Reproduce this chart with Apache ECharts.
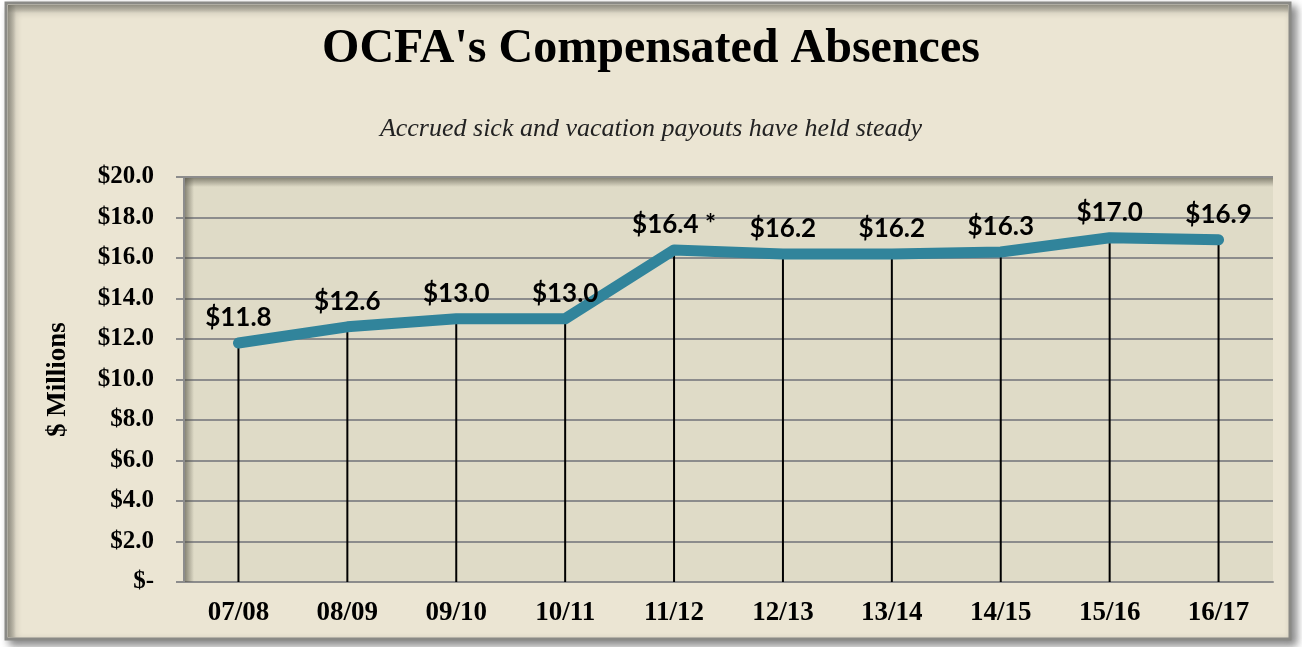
<!DOCTYPE html>
<html>
<head>
<meta charset="utf-8">
<script src="https://cdn.jsdelivr.net/npm/echarts@6/dist/echarts.min.js"></script>
<style>
  html, body { margin: 0; padding: 0; background: #ffffff; }
  #chart { width: 1302px; height: 647px; }
</style>
</head>
<body>
<div id="chart"></div>
<script>
// fiscal years and compensated absences ($ millions)
var years = ['07/08', '08/09', '09/10', '10/11', '11/12', '12/13', '13/14', '14/15', '15/16', '16/17'];
var absences = [11.8, 12.6, 13.0, 13.0, 16.4, 16.2, 16.2, 16.3, 17.0, 16.9];
var labelNotes = ['', '', '', '', ' *', '', '', '', '', ''];
var yTicks = [0, 2, 4, 6, 8, 10, 12, 14, 16, 18, 20];

var chartDom = document.getElementById('chart');
var myChart = echarts.init(chartDom);

var serif = '"Liberation Serif", "DejaVu Serif", serif';
var sans = 'Lato, "Open Sans", sans-serif';

var option = {
  backgroundColor: '#ffffff',
  animation: false,
  graphic: [
    // outer frame with shadow
    {
      type: 'rect', z: -10,
      shape: { x: 6, y: 3, width: 1284, height: 636 },
      style: {
        fill: '#ebe5d3', stroke: '#8a8a86', lineWidth: 3,
        shadowBlur: 8, shadowOffsetX: 5, shadowOffsetY: 5, shadowColor: 'rgba(0,0,0,0.45)'
      }
    },
    // inner shadow of frame (top / left)
    {
      type: 'rect', z: -9,
      shape: { x: 8, y: 5, width: 1280, height: 8 },
      style: { fill: new echarts.graphic.LinearGradient(0, 0, 0, 1, [
        { offset: 0, color: 'rgba(90,90,80,0.55)' }, { offset: 1, color: 'rgba(90,90,80,0)' }]) }
    },
    {
      type: 'rect', z: -9,
      shape: { x: 8, y: 5, width: 8, height: 632 },
      style: { fill: new echarts.graphic.LinearGradient(0, 0, 1, 0, [
        { offset: 0, color: 'rgba(90,90,80,0.55)' }, { offset: 1, color: 'rgba(90,90,80,0)' }]) }
    },
    // plot area inner shadow (top / left)
    {
      type: 'rect', z: 1,
      shape: { x: 185, y: 178, width: 1088, height: 9 },
      style: { fill: new echarts.graphic.LinearGradient(0, 0, 0, 1, [
        { offset: 0, color: 'rgba(80,78,65,0.6)' }, { offset: 1, color: 'rgba(80,78,65,0)' }]) }
    },
    {
      type: 'rect', z: 1,
      shape: { x: 185, y: 178, width: 9, height: 404 },
      style: { fill: new echarts.graphic.LinearGradient(0, 0, 1, 0, [
        { offset: 0, color: 'rgba(80,78,65,0.6)' }, { offset: 1, color: 'rgba(80,78,65,0)' }]) }
    }
  ],
  title: [
    {
      text: "OCFA's Compensated Absences",
      left: 'center', top: 21,
      textStyle: { fontFamily: serif, fontWeight: 'bold', fontSize: 48, color: '#000' }
    },
    {
      text: 'Accrued sick and vacation payouts have held steady',
      left: 'center', top: 111,
      textStyle: { fontFamily: serif, fontStyle: 'italic', fontWeight: 'normal', fontSize: 26, color: '#222' }
    }
  ],
  grid: {
    left: 184, right: 29, top: 177, bottom: 65,
    show: true, backgroundColor: '#dfdbc7', borderWidth: 0
  },
  xAxis: {
    type: 'category',
    data: years,
    boundaryGap: true,
    axisLine: { show: true, lineStyle: { color: '#8c8c8c', width: 2 } },
    axisTick: { show: false },
    axisLabel: { fontFamily: serif, fontWeight: 'bold', fontSize: 27, color: '#000', margin: 18 }
  },
  yAxis: {
    type: 'value',
    min: yTicks[0], max: yTicks[yTicks.length - 1], interval: 2,
    name: '$ Millions',
    nameLocation: 'middle',
    nameGap: 112,
    nameTextStyle: { fontFamily: serif, fontWeight: 'bold', fontSize: 27, color: '#000' },
    axisLine: { show: true, lineStyle: { color: '#8c8c8c', width: 2 } },
    axisTick: { show: true, length: 8, lineStyle: { color: '#8c8c8c', width: 2 } },
    splitLine: { show: true, lineStyle: { color: '#8c8c8c', width: 2 } },
    axisLabel: {
      fontFamily: serif, fontWeight: 'bold', fontSize: 25, color: '#000', margin: 30,
      formatter: function (v) { return v === 0 ? '$-' : '$' + v.toFixed(1); }
    }
  },
  series: [
    {
      // drop lines from each point to the axis
      name: 'drop',
      type: 'bar',
      data: absences,
      barWidth: 2,
      itemStyle: { color: '#000' },
      z: 2,
      silent: true
    },
    {
      name: 'Compensated Absences',
      type: 'line',
      data: absences,
      showSymbol: true,
      symbol: 'circle',
      symbolSize: 1,
      itemStyle: { color: '#31849b' },
      z: 3,
      lineStyle: { color: '#31849b', width: 11, cap: 'round', join: 'round' },
      label: {
        show: true,
        position: 'top',
        distance: 12,
        fontFamily: sans, fontWeight: 'bold', fontSize: 26, color: '#000',
        formatter: function (p) { return '$' + p.value.toFixed(1) + labelNotes[p.dataIndex]; }
      }
    }
  ]
};

option && myChart.setOption(option);
</script>
</body>
</html>
